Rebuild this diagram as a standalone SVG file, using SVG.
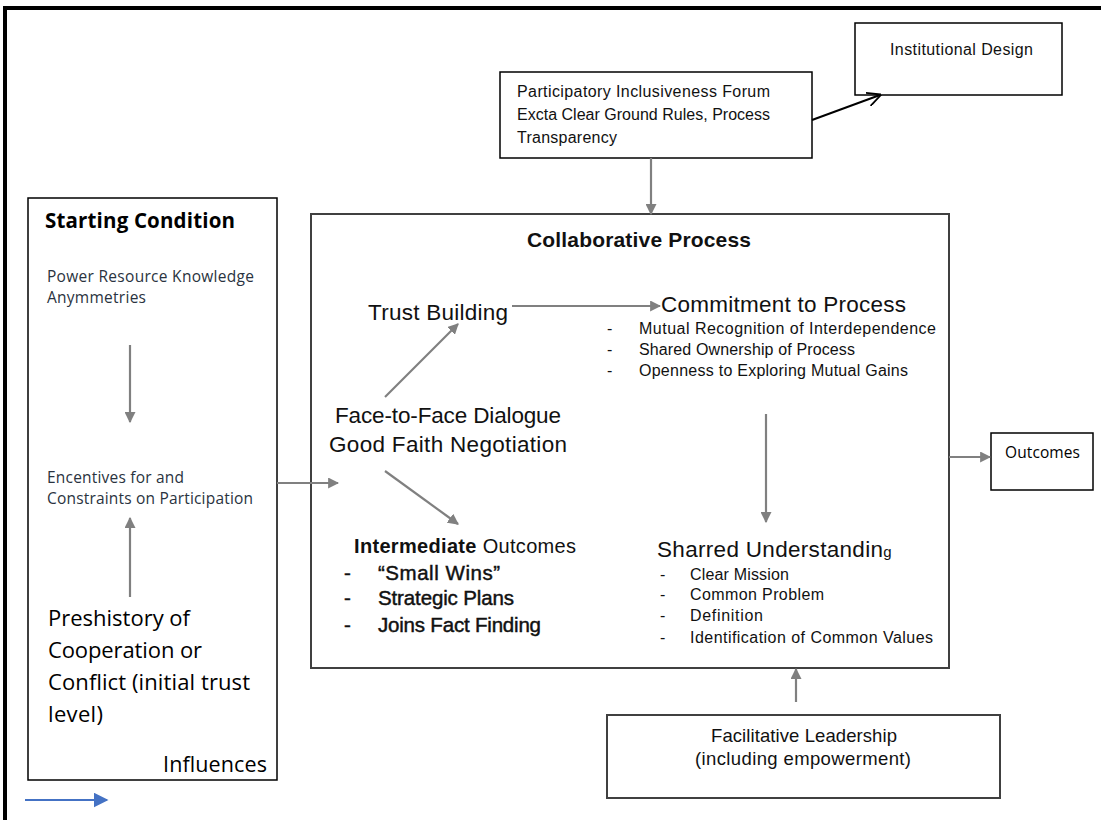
<svg xmlns="http://www.w3.org/2000/svg" width="1101" height="820" viewBox="0 0 1101 820">
<style>
.box{fill:#fff;stroke:#000;stroke-width:1.5}
.gbox{fill:#fff;stroke:#404040;stroke-width:2}
.c{font-family:"Liberation Sans",Arial,sans-serif;fill:#111}
.s{font-family:"Open Sans","Liberation Sans",sans-serif;fill:#2a3340}
.k{fill:#000}
.b{font-weight:bold}
.m{stroke:#111;stroke-width:0.45}
.g{stroke:#808080;stroke-width:2.2;fill:none}
</style>
<defs>
<marker id="ag" viewBox="0 0 10 10" refX="9" refY="5" markerWidth="5" markerHeight="5" orient="auto" markerUnits="strokeWidth"><path d="M0,0L10,5L0,10z" fill="#808080"/></marker>
<marker id="ab" viewBox="0 0 10 10" refX="9" refY="5" markerWidth="7" markerHeight="7" orient="auto" markerUnits="strokeWidth"><path d="M0,0L10,5L0,10" fill="none" stroke="#000" stroke-width="1.3"/></marker>
<marker id="abl" viewBox="0 0 10 10" refX="9" refY="5" markerWidth="7.5" markerHeight="7.5" orient="auto" markerUnits="strokeWidth"><path d="M0,0L10,5L0,10z" fill="#4472C4"/></marker>
</defs>
<rect x="5" y="8" width="1110" height="830" fill="#fff" stroke="#000" stroke-width="4"/>

<g id="institutional">
<rect class="box" x="855" y="23" width="207" height="72"/>
<text class="c" x="890" y="55" font-size="16" textLength="143">Institutional Design</text>
</g>

<g id="participatory">
<rect class="box" x="500" y="72" width="312" height="86" stroke-width="2"/>
<text class="c" font-size="16"><tspan x="517" y="97" textLength="253">Participatory Inclusiveness Forum</tspan><tspan x="517" y="120" textLength="253">Excta Clear Ground Rules, Process</tspan><tspan x="517" y="143" textLength="100">Transparency</tspan></text>
</g>

<g id="starting">
<rect class="box" x="28" y="198" width="249" height="582" stroke-width="2"/>
<text class="s b k" x="45" y="228" font-size="20.5" textLength="190">Starting Condition</text>
<text class="s" font-size="15.5"><tspan x="47" y="282" textLength="207">Power Resource Knowledge</tspan><tspan x="47" y="303" textLength="99">Anymmetries</tspan></text>
<text class="s" font-size="15.5"><tspan x="47" y="483" textLength="137">Encentives for and</tspan><tspan x="47" y="504" textLength="206">Constraints on Participation</tspan></text>
<text class="s k" font-size="22"><tspan x="48" y="626" textLength="142">Preshistory of</tspan><tspan x="48" y="658" textLength="154">Cooperation or</tspan><tspan x="48" y="690" textLength="202">Conflict (initial trust</tspan><tspan x="48" y="722" textLength="55">level)</tspan></text>
<text class="s k" x="163" y="772" font-size="21.5" textLength="104">Influences</text>
</g>

<g id="collaborative">
<rect class="gbox" x="311" y="214" width="638" height="454"/>
<text class="c b" x="527" y="247" font-size="21" textLength="224">Collaborative Process</text>
</g>

<g id="trust"><text class="c" x="368" y="320" font-size="22.5" textLength="140">Trust Building</text></g>

<g id="commitment">
<text class="c" x="661" y="312" font-size="22.5" textLength="245">Commitment to Process</text>
<text class="c" font-size="16"><tspan x="607" y="334">-</tspan><tspan x="639" y="334" textLength="297">Mutual Recognition of Interdependence</tspan><tspan x="607" y="355">-</tspan><tspan x="639" y="355" textLength="216">Shared Ownership of Process</tspan><tspan x="607" y="376">-</tspan><tspan x="639" y="376" textLength="269">Openness to Exploring Mutual Gains</tspan></text>
</g>

<g id="dialogue">
<text class="c" font-size="22.5"><tspan x="335" y="423" textLength="226">Face-to-Face Dialogue</tspan><tspan x="329" y="452" textLength="238">Good Faith Negotiation</tspan></text>
</g>

<g id="intermediate">
<text class="c" x="354" y="553" font-size="20" textLength="222"><tspan class="b">Intermediate</tspan> Outcomes</text>
<text class="c m" font-size="20.5"><tspan x="344" y="580">-</tspan><tspan x="378" y="580" textLength="122">“Small Wins”</tspan><tspan x="344" y="605">-</tspan><tspan x="378" y="605" textLength="136">Strategic Plans</tspan><tspan x="344" y="632">-</tspan><tspan x="378" y="632" textLength="163">Joins Fact Finding</tspan></text>
</g>

<g id="shared">
<text class="c" x="657" y="557" font-size="22.5"><tspan textLength="226">Sharred Understandin</tspan><tspan font-size="15">g</tspan></text>
<text class="c" font-size="16"><tspan x="660" y="580">-</tspan><tspan x="690" y="580" textLength="99">Clear Mission</tspan><tspan x="660" y="600">-</tspan><tspan x="690" y="600" textLength="134">Common Problem</tspan><tspan x="660" y="621">-</tspan><tspan x="690" y="621" textLength="73">Definition</tspan><tspan x="660" y="643">-</tspan><tspan x="690" y="643" textLength="243">Identification of Common Values</tspan></text>
</g>

<g id="outcomes">
<rect class="box" x="991" y="433" width="102" height="57" stroke-width="2"/>
<text class="s k" x="1005" y="458" font-size="15.5" textLength="75">Outcomes</text>
</g>

<g id="facilitative">
<rect class="gbox" x="607" y="715" width="393" height="83"/>
<text class="c" font-size="18.5"><tspan x="711" y="742" textLength="186">Facilitative Leadership</tspan><tspan x="695" y="765" textLength="216">(including empowerment)</tspan></text>
</g>

<g id="connectors">
<line x1="812" y1="120" x2="880" y2="95" stroke="#000" stroke-width="2" marker-end="url(#ab)"/>
<line class="g" x1="651" y1="158" x2="651" y2="214" marker-end="url(#ag)"/>
<line class="g" x1="130" y1="345" x2="130" y2="422" marker-end="url(#ag)"/>
<line class="g" x1="130" y1="597" x2="130" y2="518" marker-end="url(#ag)"/>
<line class="g" x1="277" y1="483" x2="338" y2="483" marker-end="url(#ag)"/>
<line class="g" x1="512" y1="306" x2="660" y2="306" marker-end="url(#ag)"/>
<line class="g" x1="385" y1="397" x2="458" y2="324" marker-end="url(#ag)"/>
<line class="g" x1="385" y1="471" x2="458" y2="524" marker-end="url(#ag)"/>
<line class="g" x1="766" y1="414" x2="766" y2="522" marker-end="url(#ag)"/>
<line class="g" x1="949" y1="457" x2="990" y2="457" marker-end="url(#ag)"/>
<line class="g" x1="796" y1="702" x2="796" y2="669" marker-end="url(#ag)"/>
<line x1="25" y1="800" x2="107" y2="800" stroke="#4472C4" stroke-width="2" marker-end="url(#abl)"/>
</g>
</svg>
